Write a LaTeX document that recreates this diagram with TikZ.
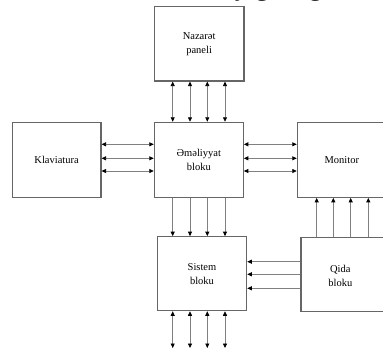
\documentclass[tikz,border=0pt]{standalone}
\usepackage{fontspec}
\setmainfont{Liberation Serif}
\usetikzlibrary{arrows.meta}
\tikzset{
  blk/.style={draw=black!60, line width=1.1pt, fill=white, inner sep=0pt,
    align=center, font=\fontsize{10.5}{14}\selectfont},
  lbl/.style={inner sep=0pt, align=center, font=\fontsize{10.5}{14}\selectfont},
  wire/.style={draw=black!50, line width=0.8pt},
  tip/.tip={Triangle[length=4.5pt,width=4pt,color=black]},
  one/.style={wire, -tip},
  two/.style={wire, tip-tip},
}
\begin{document}
\begin{tikzpicture}[x=1pt,y=-1pt]
\useasboundingbox (0,0) rectangle (383,349);
\clip (0,0) rectangle (383,349);
% clipped heading line above the figure
\node[inner sep=0pt, anchor=base west, font=\fontsize{27}{30}\selectfont] (head) at (221,-5) {aşağıda göstərilmişdir};
% blocks
\node[blk, minimum width=89.7pt, minimum height=74.3pt] (naz) at (199.15,43.85) {Nazarət\\paneli};
\node[blk, minimum width=89pt, minimum height=75pt] (op) at (198.8,159.8) {Əməliyyat\\bloku};
\node[blk, minimum width=88.7pt, minimum height=75pt] (kla) at (56.65,159.8) {Klaviatura};
\node[blk, minimum width=89pt, minimum height=75pt] (mon) at (341.8,159.8) {Monitor};
\node[blk, minimum width=89.4pt, minimum height=74pt] (sis) at (202,273.7) {Sistem\\bloku};
\node[blk, minimum width=89pt, minimum height=74.4pt] (qid) at (345.5,274.5) {};
\node[lbl] (qidt) at (340.3,276) {Qida\\bloku};
% helper coordinates for parallel wires
\coordinate (v1) at (172.7,0);
\coordinate (v2) at (190,0);
\coordinate (v3) at (207.3,0);
\coordinate (v4) at (225,0);
\coordinate (h1) at (0,144.3);
\coordinate (h2) at (0,158.3);
\coordinate (h3) at (0,171);
\coordinate (q1) at (0,261.7);
\coordinate (q2) at (0,274.3);
\coordinate (q3) at (0,288.3);
\coordinate (m1) at (316.7,0);
\coordinate (m2) at (333.3,0);
\coordinate (m3) at (350.7,0);
\coordinate (m4) at (368.3,0);
\coordinate (bot) at (0,348);
% Nazaret <-> Emeliyyat
\foreach \v in {v1,v2,v3,v4} \draw[two] (naz.south -| \v) -- (op.north -| \v);
% Emeliyyat -> Sistem
\foreach \v in {v1,v2,v3,v4} \draw[one] (op.south -| \v) -- (sis.north -| \v);
% Sistem <-> outside
\foreach \v in {v1,v2,v3,v4} \draw[two] (sis.south -| \v) -- (bot -| \v);
% Klaviatura <-> Emeliyyat <-> Monitor
\foreach \h in {h1,h2,h3} {
  \draw[two] (kla.east |- \h) -- (op.west |- \h);
  \draw[two] (op.east |- \h) -- (mon.west |- \h);
}
% Qida -> Sistem
\foreach \h in {q1,q2,q3} \draw[one] (qid.west |- \h) -- (sis.east |- \h);
% Qida -> Monitor
\foreach \v in {m1,m2,m3,m4} \draw[one] (qid.north -| \v) -- (mon.south -| \v);
\end{tikzpicture}
\end{document}
